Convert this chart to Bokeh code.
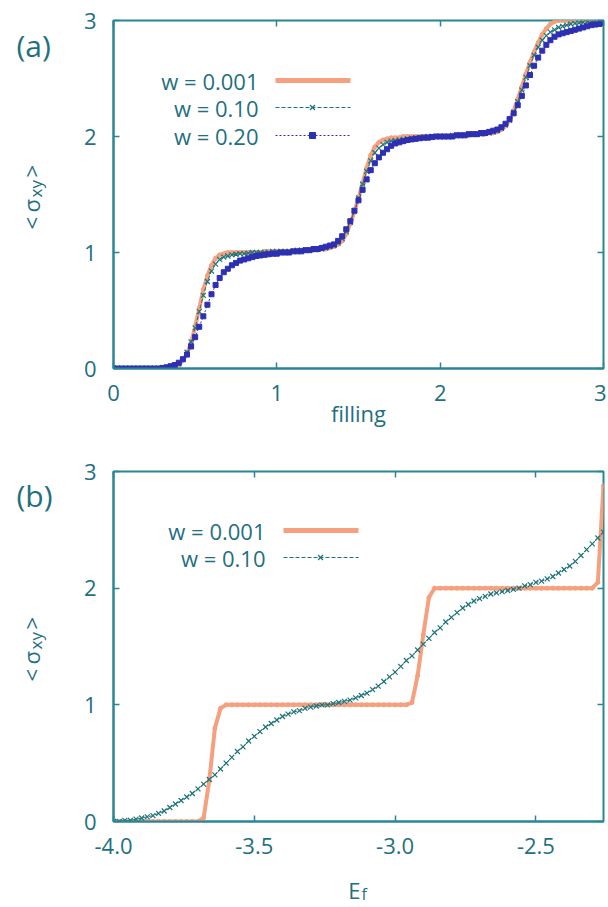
import numpy as np
from bokeh.plotting import figure
from bokeh.models import Range1d, LinearAxis, FixedTicker, Label, NumeralTickFormatter
from bokeh.layouts import column, row
from bokeh.embed import file_html
from bokeh.resources import INLINE
from bokeh.core.properties import value

FONT = "Open Sans"
TEXT = "#1f7080"
AXIS = "#2a8696"
ORANGE = "#f5a07e"
GREEN = "#1d7479"
BLUE = "#2e30b2"

# ---------------- panel (a) data: filling 0..3, step 0.025 ----------------
filling = np.round(np.linspace(0.0, 3.0, 121), 3)
sxy_a_w0001 = [
    0, 0, 0, 0, 0, 0, 0, 0, 0, 0,
    0, 0, 0, 0, 0.005, 0.01, 0.03, 0.07, 0.13, 0.22,
    0.36, 0.52, 0.68, 0.80, 0.89, 0.95, 0.98, 0.99, 1.00, 1.00,
    1.00, 1.00, 1.00, 1.00, 1.00, 1.00, 1.00, 1.01, 1.01, 1.01,
    1.01, 1.01, 1.01, 1.01, 1.01, 1.01, 1.02, 1.02, 1.02, 1.02,
    1.02, 1.03, 1.03, 1.04, 1.05, 1.07, 1.10, 1.16, 1.25, 1.35,
    1.47, 1.60, 1.73, 1.84, 1.91, 1.95, 1.97, 1.98, 1.99, 1.99,
    1.99, 2.00, 2.00, 2.00, 2.00, 2.00, 2.00, 2.00, 2.00, 2.00,
    2.00, 2.00, 2.00, 2.01, 2.01, 2.01, 2.01, 2.01, 2.02, 2.02,
    2.02, 2.02, 2.03, 2.03, 2.04, 2.06, 2.09, 2.14, 2.22, 2.32,
    2.43, 2.54, 2.64, 2.73, 2.81, 2.88, 2.93, 2.97, 2.99, 3.00,
    3.00, 3.00, 3.00, 3.00, 3.00, 3.00, 3.00, 3.00, 3.00, 3.00,
    3.00,
]
sxy_a_w010 = [
    0, 0, 0, 0, 0, 0, 0, 0, 0, 0,
    0, 0, 0.005, 0.01, 0.015, 0.025, 0.04, 0.08, 0.14, 0.23,
    0.35, 0.49, 0.63, 0.75, 0.84, 0.90, 0.94, 0.96, 0.97, 0.98,
    0.985, 0.99, 0.99, 0.995, 1.00, 1.00, 1.00, 1.00, 1.00, 1.01,
    1.01, 1.01, 1.01, 1.01, 1.01, 1.02, 1.02, 1.02, 1.02, 1.03,
    1.03, 1.03, 1.04, 1.05, 1.06, 1.08, 1.12, 1.18, 1.26, 1.36,
    1.47, 1.59, 1.70, 1.79, 1.86, 1.90, 1.93, 1.95, 1.96, 1.965,
    1.97, 1.975, 1.98, 1.985, 1.99, 1.99, 1.995, 2.00, 2.00, 2.00,
    2.00, 2.00, 2.00, 2.01, 2.01, 2.01, 2.01, 2.02, 2.02, 2.02,
    2.02, 2.03, 2.03, 2.04, 2.05, 2.07, 2.10, 2.14, 2.21, 2.30,
    2.40, 2.51, 2.61, 2.70, 2.77, 2.83, 2.87, 2.90, 2.92, 2.94,
    2.95, 2.96, 2.97, 2.975, 2.98, 2.985, 2.99, 2.99, 2.995, 3.00,
    3.00,
]
sxy_a_w020 = [
    0, 0, 0, 0, 0, 0, 0, 0, 0, 0,
    0, 0, 0.005, 0.01, 0.02, 0.03, 0.05, 0.08, 0.12, 0.19,
    0.27, 0.36, 0.45, 0.55, 0.64, 0.72, 0.78, 0.83, 0.86, 0.89,
    0.91, 0.93, 0.94, 0.95, 0.96, 0.97, 0.975, 0.98, 0.985, 0.99,
    0.99, 1.00, 1.00, 1.00, 1.01, 1.01, 1.01, 1.02, 1.02, 1.03,
    1.03, 1.04, 1.05, 1.06, 1.07, 1.10, 1.14, 1.20, 1.27, 1.36,
    1.45, 1.54, 1.63, 1.71, 1.77, 1.82, 1.86, 1.89, 1.92, 1.94,
    1.95, 1.96, 1.97, 1.975, 1.98, 1.985, 1.99, 1.99, 1.995, 2.00,
    2.00, 2.00, 2.00, 2.00, 2.01, 2.01, 2.01, 2.02, 2.02, 2.02,
    2.03, 2.03, 2.04, 2.05, 2.06, 2.08, 2.11, 2.15, 2.20, 2.27,
    2.35, 2.44, 2.53, 2.61, 2.68, 2.74, 2.79, 2.83, 2.86, 2.88,
    2.89, 2.90, 2.91, 2.92, 2.93, 2.94, 2.95, 2.96, 2.965, 2.97,
    2.98,
]

# ---------------- panel (b) data: E_f -4.00..-2.26, step 0.02 ----------------
ef = np.round(np.linspace(-4.0, -2.26, 88), 2)
sxy_b_w0001 = [
    0, 0, 0, 0, 0, 0, 0, 0, 0, 0,
    0, 0, 0, 0, 0, 0, 0.03, 0.35, 0.80, 0.97,
    1.00, 1.00, 1.00, 1.00, 1.00, 1.00, 1.00, 1.00, 1.00, 1.00,
    1.00, 1.00, 1.00, 1.00, 1.00, 1.00, 1.00, 1.00, 1.00, 1.00,
    1.00, 1.00, 1.00, 1.00, 1.00, 1.00, 1.00, 1.00, 1.00, 1.00,
    1.00, 1.00, 1.00, 1.02, 1.25, 1.60, 1.92, 2.00, 2.00, 2.00,
    2.00, 2.00, 2.00, 2.00, 2.00, 2.00, 2.00, 2.00, 2.00, 2.00,
    2.00, 2.00, 2.00, 2.00, 2.00, 2.00, 2.00, 2.00, 2.00, 2.00,
    2.00, 2.00, 2.00, 2.00, 2.00, 2.00, 2.05, 2.88,
]
sxy_b_w010 = [
    0.00, 0.00, 0.01, 0.01, 0.02, 0.03, 0.04, 0.05, 0.07, 0.09,
    0.12, 0.15, 0.18, 0.21, 0.24, 0.28, 0.32, 0.36, 0.40, 0.45,
    0.50, 0.55, 0.60, 0.64, 0.69, 0.73, 0.77, 0.81, 0.84, 0.87,
    0.90, 0.92, 0.94, 0.95, 0.97, 0.98, 0.99, 1.00, 1.00, 1.01,
    1.02, 1.03, 1.04, 1.06, 1.08, 1.10, 1.13, 1.16, 1.20, 1.24,
    1.28, 1.33, 1.38, 1.42, 1.47, 1.52, 1.57, 1.62, 1.66, 1.71,
    1.75, 1.79, 1.83, 1.86, 1.89, 1.91, 1.93, 1.95, 1.96, 1.97,
    1.98, 1.99, 2.00, 2.02, 2.03, 2.05, 2.06, 2.08, 2.10, 2.13,
    2.16, 2.19, 2.23, 2.28, 2.33, 2.38, 2.43, 2.48,
]

ticks_a_x = [0, 1, 2, 3]
ticks_y = [0, 1, 2, 3]
ticks_b_x = [-4.0, -3.5, -3.0, -2.5]
legend_a = ["w = 0.001", "w = 0.10", "w = 0.20"]
legend_b = ["w = 0.001", "w = 0.10"]

# ---------------- page geometry (page px, origin top-left) ----------------
SIDE_W = 78            # page x 0..78 : panel letters and y labels
MAIN_W = 528           # page x 78..606
FL, FR = 113, 603      # frame left/right
A_TOP, A_BOT = 20, 368
B_TOP, B_BOT = 471, 821
A_H = 438              # page y 0..438
B_PAGE = A_H
B_H = 429              # page y 438..867
S_PAGE = A_H + B_H
S_H = 38               # page y 867..905


def ax_a(px, py):
    return 3.0 * (px - FL) / (FR - FL), 3.0 * (A_BOT - py) / (A_BOT - A_TOP)


def ax_b(px, py):
    return -4.0 + 1.74 * (px - FL) / (FR - FL), 3.0 * (B_BOT - py) / (B_BOT - B_TOP)


def style_axis(ax, ticks, standoff):
    ax.ticker = FixedTicker(ticks=ticks)
    ax.axis_line_color = AXIS
    ax.axis_line_width = 2
    ax.major_tick_line_color = AXIS
    ax.major_tick_line_width = 1.5
    ax.major_tick_in = 6
    ax.major_tick_out = 0
    ax.minor_tick_line_color = None
    ax.major_label_text_font = FONT
    ax.major_label_text_color = TEXT
    ax.major_label_text_font_size = "22px"
    ax.major_label_standoff = standoff


def mirror_axis(ticks):
    ax = LinearAxis(ticker=FixedTicker(ticks=ticks))
    ax.axis_line_color = None
    ax.major_tick_line_color = AXIS
    ax.major_tick_line_width = 1.5
    ax.major_tick_in = 6
    ax.major_tick_out = 0
    ax.minor_tick_line_color = None
    ax.major_label_text_font_size = "1px"
    ax.major_label_standoff = 0
    ax.major_label_text_color = None
    return ax


def make_fig(height, xr, border_top, border_bottom, xticks):
    p = figure(width=MAIN_W, height=height, x_range=xr, y_range=Range1d(0, 3),
               output_backend="svg", toolbar_location=None,
               min_border_left=FL - SIDE_W, min_border_right=(SIDE_W + MAIN_W) - FR,
               min_border_top=border_top, min_border_bottom=border_bottom)
    p.grid.visible = False
    p.outline_line_color = AXIS
    p.outline_line_width = 2
    p.background_fill_color = "white"
    p.border_fill_color = "white"
    style_axis(p.below[0], xticks, 16)
    style_axis(p.left[0], ticks_y, 17)
    p.add_layout(mirror_axis(xticks), "above")
    p.add_layout(mirror_axis(ticks_y), "right")
    return p


def blank(width, height, xr, yr, bl=0, br=0, bt=0, bb=0):
    f = figure(width=width, height=height, x_range=xr, y_range=yr,
               output_backend="svg", toolbar_location=None,
               min_border_left=bl, min_border_right=br, min_border_top=bt, min_border_bottom=bb,
               x_axis_location=None, y_axis_location=None)
    f.grid.visible = False
    f.outline_line_color = None
    f.background_fill_color = "white"
    f.border_fill_color = "white"
    return f


def gtext(f, x, y, s, size="22px", align="left", baseline="alphabetic", angle=0.0):
    f.text(x=[x], y=[y], text=[s], text_font=value(FONT), text_font_size=value(size),
           text_color=TEXT, text_align=align, text_baseline=baseline, angle=angle)


def side_panel(height, page_top, f_top, f_bot, letter, letter_py, dy):
    # frame aligned with the main panel frame; data y = -page y
    f = blank(SIDE_W, height, Range1d(0, SIDE_W), Range1d(-f_bot, -f_top),
              bt=f_top - page_top, bb=page_top + height - f_bot)
    gtext(f, 16, -letter_py, letter, size="30px", baseline="middle")
    a = np.pi / 2
    gtext(f, 30, -(229 + dy), "<", angle=a)
    gtext(f, 30, -(212 + dy), "σ", angle=a)
    gtext(f, 35, -(197 + dy), "xy", size="17px", angle=a)
    gtext(f, 30, -(177 + dy), ">", angle=a)
    return f


def legend_label(p, x, y, s):
    p.add_layout(Label(x=x, y=y, text=s, text_font=FONT, text_font_size="22px",
                       text_color=TEXT, text_align="right", text_baseline="middle"))


# ---------------- panel (a) ----------------
pa = make_fig(A_H, Range1d(0, 3), A_TOP, A_H - A_BOT, ticks_a_x)
xa = pa.below[0]
xa.axis_label = "filling"
xa.axis_label_text_font = FONT
xa.axis_label_text_font_size = "22px"
xa.axis_label_text_font_style = "normal"
xa.axis_label_text_color = TEXT
xa.axis_label_standoff = -6

pa.line(filling, sxy_a_w0001, line_color=ORANGE, line_width=4)
pa.scatter(filling, sxy_a_w0001, marker="circle", size=4, color=ORANGE)
pa.line(filling, sxy_a_w010, line_color=GREEN, line_width=1, line_dash="4 2")
pa.scatter(filling, sxy_a_w010, marker="x", size=7, line_color=GREEN, line_width=1.2)
pa.line(filling, sxy_a_w020, line_color=BLUE, line_width=1, line_dash="2 2")
pa.scatter(filling, sxy_a_w020, marker="square", size=5, color=BLUE)

rows_a = [80, 107, 135]
tx, _ = ax_a(258, 0)
l0, _ = ax_a(275, 0)
l1, _ = ax_a(350, 0)
lm, _ = ax_a(312, 0)
for i, (lab, py) in enumerate(zip(legend_a, rows_a)):
    _, yy = ax_a(0, py)
    legend_label(pa, tx, yy, lab)
    if i == 0:
        pa.line([l0, l1], [yy, yy], line_color=ORANGE, line_width=5)
        pa.scatter([lm], [yy], marker="circle", size=4, color=ORANGE)
    elif i == 1:
        pa.line([l0, l1], [yy, yy], line_color=GREEN, line_width=1, line_dash="4 2")
        pa.scatter([lm], [yy], marker="x", size=7, line_color=GREEN, line_width=1.2)
    else:
        pa.line([l0, l1], [yy, yy], line_color=BLUE, line_width=1, line_dash="2 2")
        pa.scatter([lm], [yy], marker="square", size=6, color=BLUE)

side_a = side_panel(A_H, 0, A_TOP, A_BOT, "(a)", 45, 0)

# ---------------- panel (b) ----------------
xr_b = Range1d(-4.0, -2.26)
pb = make_fig(B_H, xr_b, B_TOP - B_PAGE, (B_PAGE + B_H) - B_BOT, ticks_b_x)
pb.below[0].formatter = NumeralTickFormatter(format="0.0")

pb.line(ef, sxy_b_w0001, line_color=ORANGE, line_width=4)
pb.scatter(ef, sxy_b_w0001, marker="circle", size=4, color=ORANGE)
pb.line(ef, sxy_b_w010, line_color=GREEN, line_width=1, line_dash="4 2")
pb.scatter(ef, sxy_b_w010, marker="x", size=7, line_color=GREEN, line_width=1.2)

rows_b = [530, 557]
tx, _ = ax_b(265, 0)
l0, _ = ax_b(283, 0)
l1, _ = ax_b(358, 0)
lm, _ = ax_b(320, 0)
for i, (lab, py) in enumerate(zip(legend_b, rows_b)):
    _, yy = ax_b(0, py)
    legend_label(pb, tx, yy, lab)
    if i == 0:
        pb.line([l0, l1], [yy, yy], line_color=ORANGE, line_width=5)
        pb.scatter([lm], [yy], marker="circle", size=4, color=ORANGE)
    else:
        pb.line([l0, l1], [yy, yy], line_color=GREEN, line_width=1, line_dash="4 2")
        pb.scatter([lm], [yy], marker="x", size=7, line_color=GREEN, line_width=1.2)

side_b = side_panel(B_H, B_PAGE, B_TOP, B_BOT, "(b)", 495, 452)

# ---------------- E_f strip (same horizontal frame as panel b) ----------------
strip_side = blank(SIDE_W, S_H, Range1d(0, 1), Range1d(0, 1))
strip = blank(MAIN_W, S_H, xr_b, Range1d(-(S_PAGE + S_H), -S_PAGE),
              bl=FL - SIDE_W, br=(SIDE_W + MAIN_W) - FR)
ex, _ = ax_b(360, 0)
fx, _ = ax_b(361, 0)
gtext(strip, ex, -889, "E", align="right")
gtext(strip, fx, -893, "f", size="16px")

layout = column(row(side_a, pa, spacing=0), row(side_b, pb, spacing=0),
                row(strip_side, strip, spacing=0), spacing=0)
open("out.html", "w").write(file_html(layout, INLINE))
